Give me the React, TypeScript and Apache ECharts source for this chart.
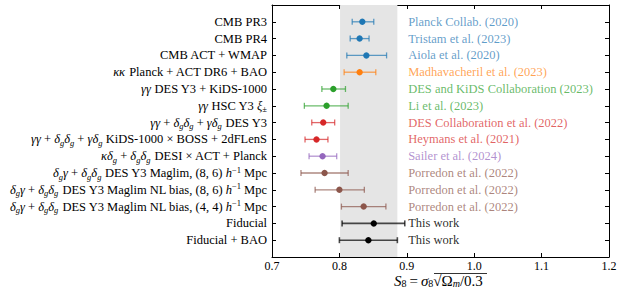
import React, { useEffect, useRef } from "react";
import * as echarts from "echarts";

const LABELS = [
  "{n|CMB PR3}",
  "{n|CMB PR4}",
  "{n|CMB ACT + WMAP}",
  "{i|κκ}{n| Planck + ACT DR6 + BAO}",
  "{i|γγ}{n| DES Y3 + KiDS-1000}",
  "{i|γγ}{n| HSC Y3 }{i|ξ}{s|±}",
  "{i|γγ}{n| + }{i|δ}{si|g}{i|δ}{si|g}{n| + }{i|γδ}{si|g}{n| DES Y3}",
  "{i|γγ}{n| + }{i|δ}{si|g}{i|δ}{si|g}{n| + }{i|γδ}{si|g}{n| KiDS-1000 × BOSS + 2dFLenS}",
  "{i|κδ}{si|g}{n| + }{i|δ}{si|g}{i|δ}{si|g}{n| DESI × ACT + Planck}",
  "{i|δ}{si|g}{i|γ}{n| + }{i|δ}{si|g}{i|δ}{si|g}{n| DES Y3 Maglim, (8, 6) }{i|h}{sup|−1}{n| Mpc}",
  "{i|δ}{si|g}{i|γ}{n| + }{i|δ}{si|g}{i|δ}{si|g}{n| DES Y3 Maglim NL bias, (8, 6) }{i|h}{sup|−1}{n| Mpc}",
  "{i|δ}{si|g}{i|γ}{n| + }{i|δ}{si|g}{i|δ}{si|g}{n| DES Y3 Maglim NL bias, (4, 4) }{i|h}{sup|−1}{n| Mpc}",
  "{n|Fiducial}",
  "{n|Fiducial + BAO}",
];

const S8 = [0.834, 0.83, 0.84, 0.83, 0.791, 0.781, 0.776, 0.766, 0.775, 0.778, 0.8, 0.836, 0.851, 0.843];
const ERR_LO = [0.015, 0.014, 0.029, 0.023, 0.017, 0.033, 0.017, 0.017, 0.02, 0.035, 0.036, 0.033, 0.047, 0.043];
const ERR_HI = [0.017, 0.014, 0.03, 0.024, 0.018, 0.032, 0.017, 0.017, 0.021, 0.035, 0.037, 0.033, 0.046, 0.043];

const REFS = [
  "Planck Collab. (2020)",
  "Tristam et al. (2023)",
  "Aiola et al. (2020)",
  "Madhavacheril et al. (2023)",
  "DES and KiDS Collaboration (2023)",
  "Li et al. (2023)",
  "DES Collaboration et al. (2022)",
  "Heymans et al. (2021)",
  "Sailer et al. (2024)",
  "Porredon et al. (2022)",
  "Porredon et al. (2022)",
  "Porredon et al. (2022)",
  "This work",
  "This work",
];

const COLORS = [
  "#1f77b4", "#1f77b4", "#1f77b4", "#ff7f0e", "#2ca02c", "#2ca02c", "#d62728",
  "#d62728", "#9467bd", "#8c564b", "#8c564b", "#8c564b", "#000000", "#000000",
];

const BAND = [0.801, 0.886];
const REF_X = 0.902;

const FONT = "Liberation Serif";
const FS = 12.5;

const rich: any = {
  n: { fontFamily: FONT, fontSize: FS, lineHeight: 16, color: "#000" },
  i: { fontFamily: FONT, fontSize: FS, lineHeight: 16, fontStyle: "italic", color: "#000" },
  s: { fontFamily: FONT, fontSize: 8.5, lineHeight: 9, verticalAlign: "bottom", color: "#000" },
  si: { fontFamily: FONT, fontSize: 8.5, lineHeight: 9, verticalAlign: "bottom", fontStyle: "italic", color: "#000" },
  sup: { fontFamily: FONT, fontSize: 8.5, lineHeight: 9, verticalAlign: "top", color: "#000" },
};

const richTitle: any = {
  n: { fontFamily: FONT, fontSize: 15, lineHeight: 14, color: "#000" },
  eq: { fontFamily: FONT, fontSize: 15, lineHeight: 14, color: "#000", padding: [0, 3, 0, 3] },
  i: { fontFamily: FONT, fontSize: 15, lineHeight: 14, fontStyle: "italic", color: "#000" },
  s: { fontFamily: FONT, fontSize: 10, lineHeight: 8, verticalAlign: "bottom", color: "#000" },
  si: { fontFamily: FONT, fontSize: 10, lineHeight: 8, verticalAlign: "bottom", fontStyle: "italic", color: "#000" },
};

const axisCommon = {
  axisLine: { show: true, onZero: false, lineStyle: { color: "#000", width: 1 } },
  axisTick: { show: true, inside: true, length: 4, lineStyle: { color: "#000" } },
  splitLine: { show: false },
};

export default function App() {
  const ref = useRef<HTMLDivElement>(null);
  useEffect(() => {
    if (!ref.current) return;
    const chart = echarts.init(ref.current, null, { renderer: "svg" });
    const data = S8.map((v, i) => [v, v - ERR_LO[i], v + ERR_HI[i], i]);
    chart.setOption({
      animation: false,
      grid: { left: 272, right: 14, top: 5, bottom: 39 },
      xAxis: [
        {
          type: "value",
          min: 0.7,
          max: 1.2,
          interval: 0.1,
          position: "bottom",
          ...axisCommon,
          axisLabel: {
            margin: 3,
            fontFamily: FONT,
            fontSize: 12,
            lineHeight: 12,
            color: "#000",
            formatter: (v: number) => v.toFixed(1),
          },
        },
        {
          type: "value",
          min: 0.7,
          max: 1.2,
          interval: 0.1,
          position: "top",
          ...axisCommon,
          axisLabel: { show: false },
        },
      ],
      yAxis: [
        {
          type: "value",
          min: -1,
          max: 14,
          interval: 1,
          inverse: true,
          position: "left",
          ...axisCommon,
          axisLabel: {
            margin: 5,
            rich,
            formatter: (v: number) => (v >= 0 && v < LABELS.length ? LABELS[v] : ""),
          },
        },
        {
          type: "value",
          min: -1,
          max: 14,
          interval: 1,
          inverse: true,
          position: "right",
          ...axisCommon,
          axisLabel: { show: false },
        },
      ],
      series: [
        {
          type: "custom",
          xAxisIndex: 0,
          yAxisIndex: 0,
          z: 1,
          silent: true,
          data: [[BAND[0], BAND[1]]],
          renderItem: (params: any, api: any) => {
            const p0 = api.coord([api.value(0), -1]);
            const p1 = api.coord([api.value(1), 14]);
            return {
              type: "rect",
              shape: { x: p0[0], y: Math.min(p0[1], p1[1]), width: p1[0] - p0[0], height: Math.abs(p1[1] - p0[1]) },
              style: { fill: "#e5e5e5" },
            };
          },
        },
        {
          type: "custom",
          xAxisIndex: 0,
          yAxisIndex: 0,
          z: 3,
          silent: true,
          clip: false,
          data,
          encode: { x: [0, 1, 2], y: 3 },
          renderItem: (params: any, api: any) => {
            const idx = params.dataIndex;
            const yv = api.value(3);
            const c = api.coord([api.value(0), yv]);
            const lo = api.coord([api.value(1), yv]);
            const hi = api.coord([api.value(2), yv]);
            const t = api.coord([REF_X, yv]);
            const col = COLORS[idx];
            const isBlack = col === "#000000";
            const lw = isBlack ? 1.6 : 1.3;
            const lineStyle = { stroke: col, lineWidth: lw, opacity: 0.7 };
            const cap = 3;
            return {
              type: "group",
              children: [
                { type: "line", shape: { x1: lo[0], y1: lo[1], x2: hi[0], y2: hi[1] }, style: lineStyle },
                { type: "line", shape: { x1: lo[0], y1: lo[1] - cap, x2: lo[0], y2: lo[1] + cap }, style: lineStyle },
                { type: "line", shape: { x1: hi[0], y1: hi[1] - cap, x2: hi[0], y2: hi[1] + cap }, style: lineStyle },
                { type: "circle", shape: { cx: c[0], cy: c[1], r: 3.2 }, style: { fill: col } },
                {
                  type: "text",
                  style: {
                    text: REFS[idx],
                    x: t[0],
                    y: t[1],
                    fill: col,
                    opacity: isBlack ? 0.85 : 0.72,
                    fontFamily: FONT,
                    fontSize: FS,
                    verticalAlign: "middle",
                    align: "left",
                  },
                },
              ],
            };
          },
        },
      ],
      graphic: [
        {
          type: "text",
          x: 394,
          y: 281,
          style: {
            text: "{i|S}{s|8}{eq|=}{i|σ}{s|8}{n|√Ω}{si|m}{n|/0.3}",
            rich: richTitle,
            align: "left",
            verticalAlign: "middle",
          },
        },
        {
          type: "line",
          shape: { x1: 434, y1: 273.5, x2: 487, y2: 273.5 },
          style: { stroke: "#000", lineWidth: 0.8 },
        },
      ],
    });
    return () => chart.dispose();
  }, []);
  return <div ref={ref} style={{ position: "absolute", left: 0, top: 0, width: 623, height: 296 }} />;
}
